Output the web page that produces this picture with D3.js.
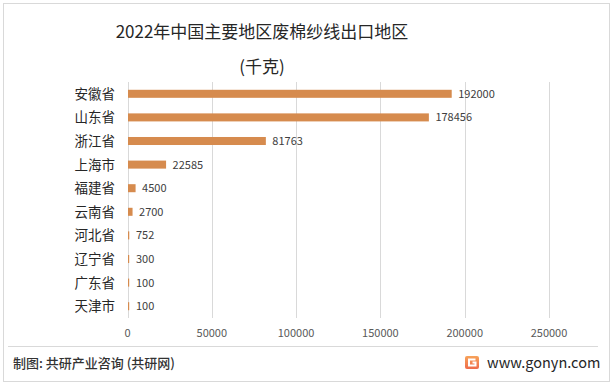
<!DOCTYPE html>
<html><head><meta charset="utf-8">
<script src="https://cdn.jsdelivr.net/npm/d3@7"></script>
<style>body{margin:0;background:#fff}svg{display:block}text{font-family:"Microsoft YaHei","Noto Sans CJK SC",sans-serif}</style>
</head><body><svg id="c" width="613" height="386"></svg>
<script>
const categories = ["安徽省","山东省","浙江省","上海市","福建省","云南省","河北省","辽宁省","广东省","天津市"];
const values = [192000,178456,81763,22585,4500,2700,752,300,100,100];
const ticks = [0,50000,100000,150000,200000,250000];
const title = "2022年中国主要地区废棉纱线出口地区";
const subtitle = "(千克)";
const source = "制图: 共研产业咨询 (共研网)";
const site = "www.gonyn.com";

const svg = d3.select("#c");
svg.append("rect").attr("x",3.5).attr("y",3.5).attr("width",606).attr("height",378)
  .attr("fill","#fff").attr("stroke","#d9d9d9");

const x = d3.scaleLinear().domain([0,250000]).range([127.5,549]);
const y = d3.scaleBand().domain(categories).range([82,318]).paddingInner(0.66).paddingOuter(0.33);

// gridlines
svg.append("g").selectAll("line").data(ticks).join("line")
  .attr("x1",d=>Math.round(x(d))+0.5).attr("x2",d=>Math.round(x(d))+0.5)
  .attr("y1",82).attr("y2",318).attr("stroke","#d9d9d9").attr("stroke-width",1);

// tick labels
svg.append("g").selectAll("text").data(ticks).join("text")
  .attr("x",d=>x(d)).attr("y",337).attr("text-anchor","middle")
  .attr("font-size",11).attr("fill","#595959").text(d=>d);

// bars
svg.append("g").selectAll("rect").data(values).join("rect")
  .attr("x",x(0)+0.5).attr("y",(d,i)=>y(categories[i]))
  .attr("width",d=>Math.max(1.2,x(d)-x(0))).attr("height",y.bandwidth())
  .attr("fill","#D68B4E");

// value labels
svg.append("g").selectAll("text").data(values).join("text")
  .attr("x",d=>Math.max(x(d),x(0)+1.5)+7).attr("y",(d,i)=>y(categories[i])+y.bandwidth()/2+4)
  .attr("font-size",11).attr("fill","#404040").text(d=>d);

// category labels
svg.append("g").selectAll("text").data(categories).join("text")
  .attr("x",115).attr("y",d=>y(d)+y.bandwidth()/2+5)
  .attr("text-anchor","end").attr("font-size",13.5).attr("fill","#262626").text(d=>d);

// title
svg.append("text").attr("x",262).attr("y",38).attr("text-anchor","middle")
  .attr("font-size",17).attr("fill","#262626").text(title);
svg.append("text").attr("x",262).attr("y",73).attr("text-anchor","middle")
  .attr("font-size",17).attr("fill","#262626").text(subtitle);

// footer
svg.append("line").attr("x1",8).attr("x2",598).attr("y1",346.5).attr("y2",346.5)
  .attr("stroke","#d9d9d9");
svg.append("text").attr("x",13).attr("y",368).attr("font-size",13).attr("font-weight",500)
  .attr("fill","#333").text(source);
const defs = svg.append("defs");
const lg = defs.append("linearGradient").attr("id","lg").attr("x1",0).attr("y1",0).attr("x2",0).attr("y2",1);
lg.append("stop").attr("offset",0).attr("stop-color","#f7a35a");
lg.append("stop").attr("offset",1).attr("stop-color","#ee6b4a");
const lgG = svg.append("g").attr("transform","translate(465,356)");
lgG.append("rect").attr("width",14).attr("height",13).attr("rx",2).attr("fill","url(#lg)");
lgG.append("path").attr("d","M10.5 3.5 H4 V9.5 H10.5 V6.5 H7.5").attr("fill","none").attr("stroke","#fff").attr("stroke-width",2);
svg.append("text").attr("x",487).attr("y",368).attr("font-size",14.5).attr("fill","#262626").text(site);
</script></body></html>
